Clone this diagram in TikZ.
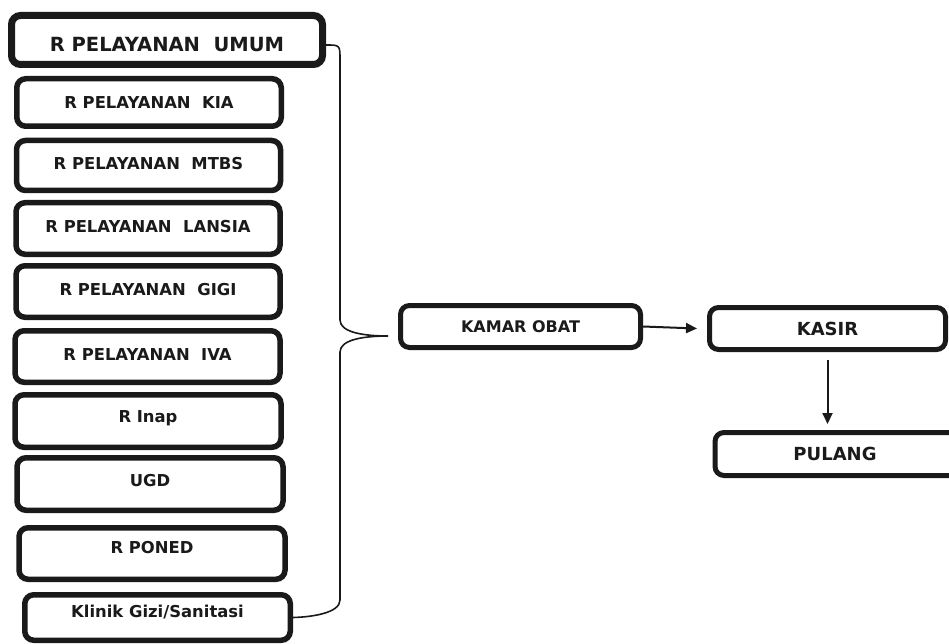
\documentclass[tikz,border=0pt]{standalone}
\usepackage{fontspec}
\setmainfont{DejaVu Sans}
\usetikzlibrary{arrows.meta}
\definecolor{ink}{HTML}{1A1A1A}
\begin{document}
\begin{tikzpicture}[x=1pt,y=-1pt,
  room/.style={draw=ink, line width=5.5pt, rounded corners=9pt, fill=white,
    minimum width=264pt, minimum height=50pt, inner sep=0pt,
    font=\fontsize{16.4}{18}\selectfont\bfseries, text=ink},
  bigroom/.style={room, line width=7pt, minimum width=311pt, minimum height=49pt,
    font=\fontsize{19.5}{22}\selectfont\bfseries},
  flowbox/.style={room, line width=5pt, minimum width=240pt, minimum height=42pt,
    font=\fontsize{16}{18}\selectfont\bfseries},
  brace/.style={draw=ink, line width=1.6pt},
  arr/.style={draw=ink, line width=2pt, -{Triangle[length=11pt,width=10pt]}}]
\clip (0,0) rectangle (949,644);
\fill[white] (0,0) rectangle (949,644);

% service rooms
\node[bigroom] (umum) at (167,40) {\raisebox{-5pt}[\height][\depth]{R PELAYANAN\ \ UMUM}};
\node[room, minimum width=264.5pt, minimum height=47.5pt] (kia) at (149,102.5) {R PELAYANAN\ \ KIA};
\node[room] (mtbs) at (148.5,165.5) {\raisebox{2pt}[\height][\depth]{R PELAYANAN\ \ MTBS}};
\node[room, minimum height=51.5pt] (lansia) at (148,228.5) {\raisebox{2pt}[\height][\depth]{R PELAYANAN\ \ LANSIA}};
\node[room, minimum height=51.5pt] (gigi) at (148,291.5) {\raisebox{2pt}[\height][\depth]{R PELAYANAN\ \ GIGI}};
\node[room, minimum height=51.5pt, minimum width=265pt] (iva) at (147.5,356.5) {\raisebox{2pt}[\height][\depth]{R PELAYANAN\ \ IVA}};
\node[room, minimum height=52.5pt, minimum width=266pt] (inap) at (148,421) {\raisebox{3pt}[\height][\depth]{R Inap}};
\node[room, minimum height=52.5pt, minimum width=266pt] (ugd) at (150,484) {\raisebox{3pt}[\height][\depth]{UGD}};
\node[room, minimum height=51.5pt, minimum width=266pt] (poned) at (152,553.5) {\raisebox{6pt}[\height][\depth]{R PONED}};
\node[room, minimum height=45.5pt, minimum width=265.5pt] (gizi) at (157.5,617.5) {\raisebox{5pt}[\height][\depth]{Klinik Gizi/Sanitasi}};

% pharmacy, cashier, exit
\node[flowbox, minimum width=240pt] (obat) at (520.5,326.5) {KAMAR OBAT};
\node[flowbox, minimum width=236pt, font=\fontsize{18}{20}\selectfont\bfseries] (kasir) at (827.5,328.5) {KASIR};
\node[flowbox, minimum width=250pt, minimum height=43pt, font=\fontsize{18}{20}\selectfont\bfseries] (pulang) at (840,454) {\hspace*{-10pt}PULANG};

% brace gathering all rooms toward the pharmacy
\coordinate (tip) at (388,336);
\draw[brace] ([yshift=-5pt]umum.east) .. controls (340,45) .. (340,60)
  -- (340,320) .. controls (340,333) and (366,336) .. (tip)
  .. controls (366,336) and (340,339) .. (340,352)
  -- (340,600) .. controls (340,613) and (312,617) .. (gizi.east);

% flow arrows
\draw[arr] (obat.east) -- ([xshift=-10pt]kasir.west);
\draw[arr, shorten <=8pt, shorten >=6pt] (kasir.south) -- (kasir.south |- pulang.north);
\end{tikzpicture}
\end{document}
